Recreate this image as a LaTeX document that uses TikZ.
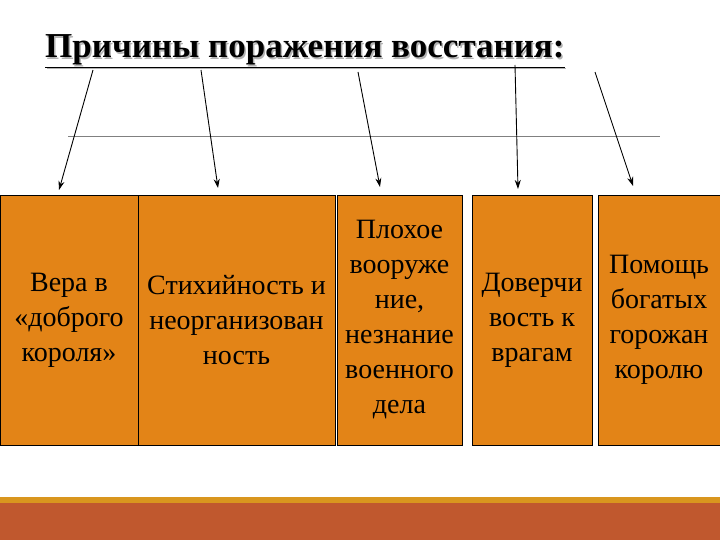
\documentclass[tikz,border=0pt]{standalone}
\usepackage{fontspec}
\setmainfont{Liberation Serif}
\usetikzlibrary{arrows.meta}
\definecolor{boxor}{HTML}{E38417}
\definecolor{barred}{HTML}{C0582E}
\definecolor{bargold}{HTML}{D9961E}
\begin{document}
\begin{tikzpicture}[x=1pt,y=-1pt,
  cause/.style={draw=black,line width=0.8pt,fill=boxor,align=center,font=\fontsize{28}{35}\selectfont,inner sep=0pt},
  arr/.style={-{Stealth[length=9pt,width=6pt]},line width=0.9pt}]
\useasboundingbox (0,0) rectangle (720,540);
\fill[white] (0,0) rectangle (720,540);
% bottom bar
\fill[bargold] (0,497) rectangle (720,504);
\fill[barred] (0,503) rectangle (720,540);
% thin line
\draw[gray,line width=0.6pt] (68,136) -- (660,136);
% title
\node[anchor=base west,font=\fontsize{35}{36}\selectfont\bfseries,text=gray!60,inner sep=0] at (46.5,59.5) {\underline{Причины поражения восстания:}};
\node[anchor=base west,font=\fontsize{35}{36}\selectfont\bfseries,inner sep=0] (title) at (45,58) {\underline{Причины поражения восстания:}};
% boxes
\node[cause,minimum width=138pt,minimum height=250pt] (b1) at (69,320) {Вера в\\«доброго\\короля»};
\node[cause,minimum width=197pt,minimum height=250pt] (b2) at (236.5,320) {Стихийность и\\неорганизован\\ность};
\node[cause,minimum width=125pt,minimum height=250pt] (b3) at (399.5,320) {Плохое\\вооруже\\ние,\\незнание\\военного\\дела};
\node[cause,minimum width=120pt,minimum height=250pt] (b4) at (532,320) {Доверчи\\вость к\\врагам};
\node[cause,minimum width=122pt,minimum height=250pt] (b5) at (659,320) {Помощь\\богатых\\горожан\\королю};
% arrows
\coordinate (s1) at (93,70); \coordinate (t1) at (59,190);
\coordinate (s2) at (201,70); \coordinate (t2) at (218,188);
\coordinate (s3) at (358,72); \coordinate (t3) at (380,187);
\coordinate (s4) at (515,65); \coordinate (t4) at (518,189);
\coordinate (s5) at (595,72); \coordinate (t5) at (633,186);
\foreach \i in {1,...,5} \draw[arr] (s\i) -- (t\i);
\end{tikzpicture}
\end{document}
